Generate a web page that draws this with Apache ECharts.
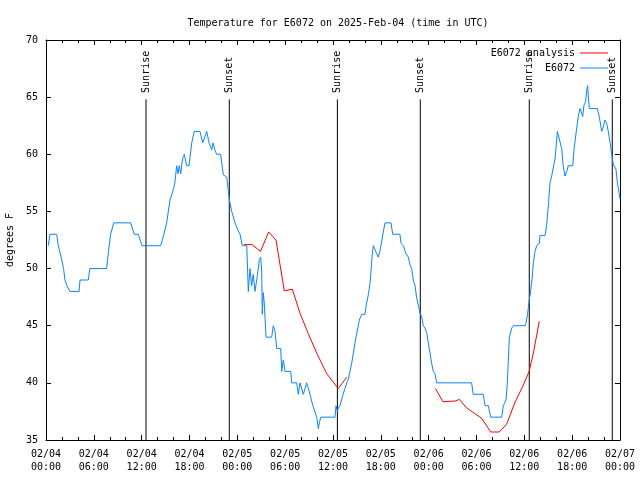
<!DOCTYPE html>
<html>
<head>
<meta charset="utf-8">
<script src="https://cdn.jsdelivr.net/npm/echarts@6/dist/echarts.min.js"></script>
<style>html,body{margin:0;padding:0;background:#fff}#c{width:640px;height:480px}</style>
</head>
<body>
<div id="c"></div>
<script>
var xTickLabels = ["02/04\n00:00","02/04\n06:00","02/04\n12:00","02/04\n18:00","02/05\n00:00","02/05\n06:00","02/05\n12:00","02/05\n18:00","02/06\n00:00","02/06\n06:00","02/06\n12:00","02/06\n18:00","02/07\n00:00"];
var blueHours = [0.29,0.5,1.34,1.54,1.7,1.9,2.07,2.2,2.38,2.63,3.0,4.14,4.27,5.3,5.5,7.6,7.84,8.1,8.5,10.62,11.07,11.58,12.04,14.39,14.71,15.14,15.55,15.97,16.18,16.39,16.56,16.72,16.9,17.06,17.22,17.35,17.65,17.94,18.28,18.6,19.32,19.66,19.82,20.16,20.45,20.79,20.95,21.16,21.41,21.91,22.24,22.67,23.0,23.29,23.71,24.12,24.34,24.62,25.18,25.38,25.59,25.8,26.0,26.21,26.5,26.76,26.93,27.06,27.13,27.25,27.38,27.6,28.31,28.51,28.73,28.94,29.44,29.57,29.77,29.98,30.69,30.82,31.45,31.65,31.86,32.07,32.28,32.49,32.7,32.9,33.12,33.32,33.53,33.96,34.16,34.29,34.46,36.25,36.38,36.54,36.67,36.88,37.22,37.5,37.72,37.92,38.13,38.34,38.55,38.76,38.97,39.18,39.3,39.6,40.01,40.14,40.43,40.64,40.73,40.85,40.98,41.06,41.27,41.48,41.68,41.9,42.11,42.31,42.52,43.28,43.49,44.4,44.53,44.82,45.16,45.45,45.66,45.87,46.07,46.29,46.5,46.7,46.91,47.12,47.33,47.54,47.75,47.95,48.17,48.38,48.58,48.8,49.0,53.39,53.59,54.85,55.07,55.48,55.78,57.16,57.36,57.7,57.87,58.12,58.42,58.63,60.09,60.21,60.42,60.62,60.71,60.8,61.0,61.13,61.34,61.55,61.88,61.97,62.6,62.8,63.0,63.22,63.43,63.63,63.85,64.06,64.14,64.39,64.69,64.89,65.1,65.32,65.51,66.07,66.23,66.48,66.77,66.98,67.19,67.32,67.48,67.69,67.82,67.94,68.02,68.15,69.15,69.4,69.7,69.9,70.12,70.33,70.53,70.74,70.96,71.16,71.38,71.5,71.67,71.8,72.0];
var blueTemps = [52,53,53,52,52,51,51,50,49,48.5,48,48,49,49,50,50,51.5,53,54,54,53,53,52,52,52.8,54,56,56.9,57.6,59,58.3,59,58.3,59.3,59.8,60,59,59,61,62,62,61,61,62,61,60.4,61,60.4,60,60,58.2,58,56,55,54,53.3,53,52,52,48,50,48.5,49.5,48,49.3,50.8,51,49.7,46,47.9,47,44,44,45,44.5,43,43,41,42,41,41,40,40,39,40,40,39,39,40,40,39,38.4,37.9,37,36,36.5,37,37,38,37.5,37.8,38,38.9,39.5,40,40.3,41,41.7,42.6,43.5,44.3,45,45.5,46,46,46.7,47.7,48.7,49.4,50.6,51.6,52,52,51.3,51,51.6,52.4,53.2,54,54,53,53,52.2,52,51.3,51,50.3,50,49,48.5,47.4,46.8,46.1,45.8,45,44.8,44.4,43.5,42.6,41.7,41,40.8,40,40,39,39,38,38,37,37,38,38.5,40,44,44.8,45,45,45.2,46.1,47.3,47.6,48.1,49.3,50.5,51.5,52,52.2,52.9,52.9,53.8,55.4,57.5,58.1,58.1,59.6,61.25,62,62,60.5,58.9,58.1,58.5,59,59,60.4,61.8,63.3,64,63.6,63.3,64.3,64.6,65.6,66,65.2,64,64,63.3,62,62.4,63,62.7,62,61.1,60,59.1,59.1,58.7,57.5,57,56.1];
var redHours1 = [24.85,25.85,26.9,27.93,28.85,29.89,30.9,31.86,32.9,33.96,35.21,36.67,37.72];
var redTemps1 = [52.1,52.1,51.5,53.2,52.5,48.05,48.2,46.1,44.3,42.6,40.8,39.5,40.5];
var redHours2 = [48.85,49.8,50.85,51.3,51.85,52.77,53.81,54.65,55.78,56.86,57.79,58.83,59.87,60.6,61.13,61.88];
var redTemps2 = [39.5,38.35,38.4,38.4,38.55,37.8,37.3,36.9,35.7,35.7,36.4,38.3,39.8,41.0,42.6,45.4];
var sunriseHours = [12.54, 36.55, 60.62];
var sunsetHours = [22.99, 46.95, 71.03];

var FONT = 'DejaVu Sans Mono';
var SUN_BOTTOM = 35, SUN_TOP = 64.8;

function pairs(xs, ys) { return xs.map(function (x, i) { return [x, ys[i]]; }); }
var redData = pairs(redHours1, redTemps1).concat([['-', '-']]).concat(pairs(redHours2, redTemps2));

var series = [
  {name: 'E6072 analysis', type: 'line', data: redData, showSymbol: false, symbol: 'none',
   lineStyle: {color: '#ff0000', width: 1}, itemStyle: {color: '#ff0000'}, connectNulls: false, z: 3},
  {name: 'E6072', type: 'line', data: pairs(blueHours, blueTemps), showSymbol: false, symbol: 'none',
   lineStyle: {color: '#0a84ff', width: 1}, itemStyle: {color: '#0a84ff'}, z: 4}
];
var sunLabels = [];
function sunLine(h, name) {
  sunLabels.push([h, SUN_TOP, name]);
  return {type: 'line', silent: true, symbol: 'none', showSymbol: false, z: 2,
    lineStyle: {color: '#000', width: 1},
    data: [[h, SUN_BOTTOM], [h, SUN_TOP]]};
}
sunriseHours.forEach(function (h) { series.push(sunLine(h, 'Sunrise')); });
sunsetHours.forEach(function (h) { series.push(sunLine(h, 'Sunset')); });
series.push({type: 'scatter', silent: true, symbol: 'circle', symbolSize: 1, z: 5,
  itemStyle: {color: 'rgba(0,0,0,0)'}, data: sunLabels,
  label: {show: true, position: 'top', distance: 6, rotate: 90, align: 'left', verticalAlign: 'middle',
    fontFamily: FONT, fontSize: 10, color: '#000', opacity: 1,
    formatter: function (p) { return p.value[2]; }}});

var axLine = {show: true, onZero: false, lineStyle: {color: '#000', width: 1}};
var chart = echarts.init(document.getElementById('c'), null, {renderer: 'canvas'});
chart.setOption({
  animation: false,
  backgroundColor: '#fff',
  title: {text: 'Temperature for E6072 on 2025-Feb-04 (time in UTC)', left: 333, top: 13, textAlign: 'center',
    textStyle: {fontFamily: FONT, fontSize: 10, fontWeight: 'normal', color: '#000'}},
  legend: {data: [{name: 'E6072 analysis'}, {name: 'E6072'}], orient: 'vertical', right: 27, top: 43,
    align: 'right', icon: 'rect', itemWidth: 28, itemHeight: 1, itemGap: 5,
    textStyle: {fontFamily: FONT, fontSize: 10, color: '#000'}},
  grid: {left: 46, right: 20, top: 40, bottom: 40, containLabel: false, outerBoundsMode: 'none'},
  xAxis: [
    {type: 'value', min: 0, max: 72, interval: 6, position: 'bottom', axisLine: axLine,
     axisTick: {show: true, inside: true, length: 5, lineStyle: {color: '#000'}},
     minorTick: {show: true, splitNumber: 3, length: 3, lineStyle: {color: '#000'}},
     splitLine: {show: false}, minorSplitLine: {show: false},
     axisLabel: {show: true, margin: 8, lineHeight: 13, fontFamily: FONT, fontSize: 10, color: '#000',
       showMinLabel: true, showMaxLabel: true, hideOverlap: false,
       formatter: function (v) { return xTickLabels[Math.round(v / 6)]; }}},
    {type: 'value', min: 0, max: 72, interval: 6, position: 'top', axisLine: axLine,
     axisTick: {show: true, inside: true, length: 5, lineStyle: {color: '#000'}},
     minorTick: {show: true, splitNumber: 3, length: 3, lineStyle: {color: '#000'}},
     splitLine: {show: false}, axisLabel: {show: false}}
  ],
  yAxis: [
    {type: 'value', min: 35, max: 70, interval: 5, position: 'left', axisLine: axLine,
     axisTick: {show: true, inside: true, length: 5, lineStyle: {color: '#000'}},
     splitLine: {show: false},
     name: 'degrees F', nameLocation: 'middle', nameRotate: 90, nameGap: 31,
     nameTextStyle: {fontFamily: FONT, fontSize: 10, color: '#000'},
     axisLabel: {margin: 8, fontFamily: FONT, fontSize: 10, color: '#000', showMinLabel: true, showMaxLabel: true}},
    {type: 'value', min: 35, max: 70, interval: 5, position: 'right', axisLine: axLine,
     axisTick: {show: true, inside: true, length: 5, lineStyle: {color: '#000'}},
     splitLine: {show: false}, axisLabel: {show: false}}
  ],
  series: series
});
</script>
</body>
</html>
